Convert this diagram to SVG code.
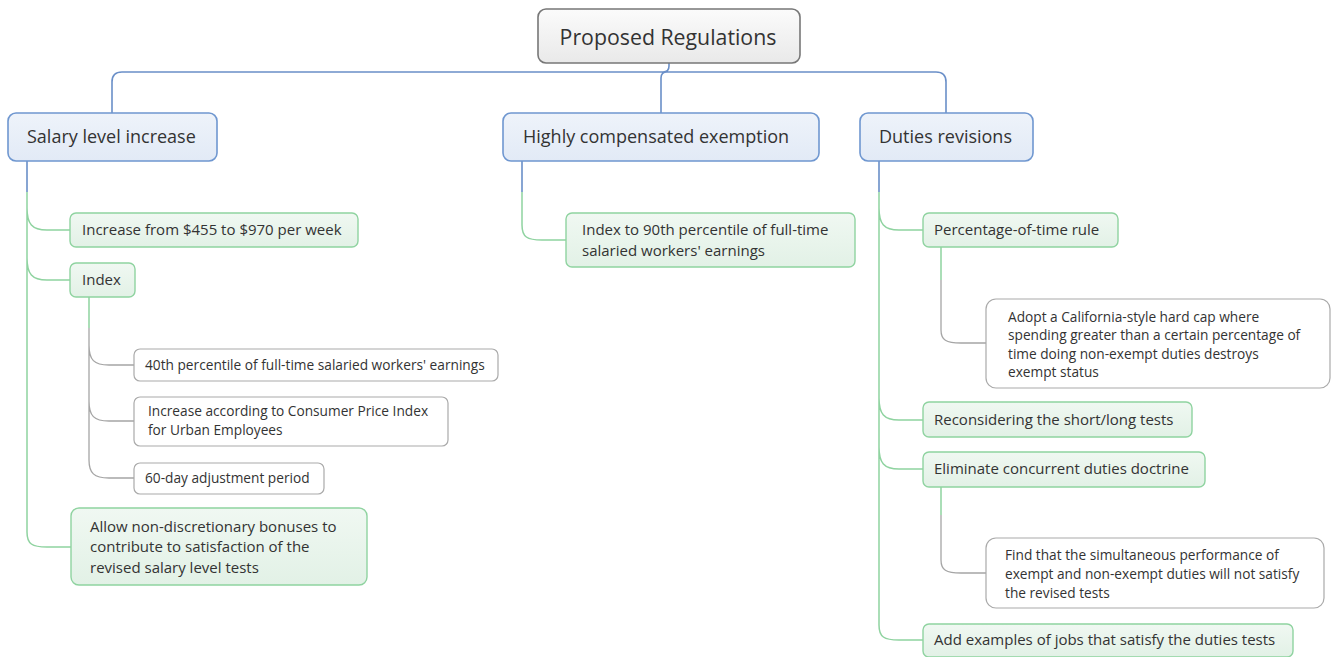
<svg xmlns="http://www.w3.org/2000/svg" width="1337" height="657" viewBox="0 0 1337 657">
<defs>
<linearGradient id="gRoot" x1="0" y1="0" x2="0" y2="1"><stop offset="0" stop-color="#fbfbfb"/><stop offset="1" stop-color="#e9e9e9"/></linearGradient>
<linearGradient id="gBlue" x1="0" y1="0" x2="0" y2="1"><stop offset="0" stop-color="#eef3fa"/><stop offset="1" stop-color="#e2eaf6"/></linearGradient>
<linearGradient id="gGreen" x1="0" y1="0" x2="0" y2="1"><stop offset="0" stop-color="#f0f8f2"/><stop offset="1" stop-color="#e2f1e6"/></linearGradient>
</defs>
<style>
text{font-family:"Open Sans","Noto Sans",sans-serif;fill:#333;}
.root{fill:url(#gRoot);stroke:#777;stroke-width:1.6;}
.blue{fill:url(#gBlue);stroke:#6f97d0;stroke-width:1.6;}
.green{fill:url(#gGreen);stroke:#8fd3a0;stroke-width:1.4;}
.gray{fill:#fff;stroke:#aaa;stroke-width:1.2;}
.t0{font-size:21.3px;}
.t1{font-size:18px;}
.t2{font-size:15px;}
.t3{font-size:13.7px;}
.cb{fill:none;stroke:#6a8fc8;stroke-width:1.6;}
.cg{fill:none;stroke:#8fd3a0;stroke-width:1.5;}
.cy{fill:none;stroke:#a5a5a5;stroke-width:1.3;}
</style>
<g id="connectors">
<path class="cb" d="M669,63 L669,66 Q669,72 663,72 M112,113 L112,82 Q112,72 122,72 L936,72 Q946,72 946,82 L946,113 M661,113 L661,78 Q661,72 667,72"/>
<path class="cb" d="M27,161 L27,192 M522,161 L522,192 M879,161 L879,192"/>
<path class="cg" d="M27,192 L27,532 C27,544 32,547 47,547 L71,547 M27,208 C27,224 32,230 47,230 L70,230 M27,258 C27,274 32,280 47,280 L70,280"/>
<path class="cg" d="M89,297 L89,328 M522,192 L522,225 C522,237 527,240 542,240 L566,240"/>
<path class="cy" d="M89,328 L89,460 C89,473 94,478 109,478 L134,478 M89,345 C89,360 94,365 109,365 L134,365 M89,401 C89,416 94,421 109,421 L134,421"/>
<path class="cg" d="M879,192 L879,625 C879,637 884,640 899,640 L923,640 M879,208 C879,224 884,230 899,230 L923,230 M879,398 C879,414 884,420 899,420 L923,420 M879,447 C879,463 884,469 899,469 L923,469"/>
<path class="cg" d="M941,247 L941,280 M941,487 L941,515"/>
<path class="cy" d="M941,280 L941,330 C941,340 946,343 961,343 L986,343 M941,515 L941,560 C941,570 946,573 961,573 L986,573"/>
</g>
<g id="root"><rect class="root" x="538" y="9" width="262" height="54" rx="8"/><text class="t0" x="668" y="44.5" text-anchor="middle">Proposed Regulations</text></g>
<g id="salary"><rect class="blue" x="8" y="113" width="209" height="48" rx="8"/><text class="t1" x="27" y="143">Salary level increase</text></g>
<g id="hce"><rect class="blue" x="503" y="113" width="316" height="48" rx="8"/><text class="t1" x="523" y="143">Highly compensated exemption</text></g>
<g id="duties"><rect class="blue" x="860" y="113" width="173" height="48" rx="8"/><text class="t1" x="879" y="143">Duties revisions</text></g>
<g id="increase"><rect class="green" x="70" y="213" width="288" height="34" rx="6"/><text class="t2" x="82" y="235">Increase from $455 to $970 per week</text></g>
<g id="index"><rect class="green" x="70" y="263" width="65" height="34" rx="6"/><text class="t2" x="82" y="285">Index</text></g>
<g id="p40"><rect class="gray" x="134" y="349" width="364" height="32" rx="6"/><text class="t3" x="145" y="370">40th percentile of full-time salaried workers' earnings</text></g>
<g id="cpi"><rect class="gray" x="134" y="397" width="314" height="49" rx="6"/><text class="t3" x="148" y="416">Increase according to Consumer Price Index</text><text class="t3" x="148" y="435">for Urban Employees</text></g>
<g id="adj"><rect class="gray" x="134" y="463" width="190" height="31" rx="6"/><text class="t3" x="145" y="483">60-day adjustment period</text></g>
<g id="bonus"><rect class="green" x="71" y="508" width="296" height="77" rx="8"/><text class="t2" x="90" y="532">Allow non-discretionary bonuses to</text><text class="t2" x="90" y="552">contribute to satisfaction of the</text><text class="t2" x="90" y="573">revised salary level tests</text></g>
<g id="p90"><rect class="green" x="566" y="213" width="289" height="54" rx="6"/><text class="t2" x="582" y="235">Index to 90th percentile of full-time</text><text class="t2" x="582" y="256">salaried workers' earnings</text></g>
<g id="pot"><rect class="green" x="923" y="213" width="195" height="34" rx="6"/><text class="t2" x="934" y="235">Percentage-of-time rule</text></g>
<g id="cal"><rect class="gray" x="986" y="299" width="344" height="89" rx="10"/><text class="t3" x="1008" y="322">Adopt a California-style hard cap where</text><text class="t3" x="1008" y="340">spending greater than a certain percentage of</text><text class="t3" x="1008" y="359">time doing non-exempt duties destroys</text><text class="t3" x="1008" y="377">exempt status</text></g>
<g id="short"><rect class="green" x="923" y="402" width="269" height="35" rx="6"/><text class="t2" x="934" y="425">Reconsidering the short/long tests</text></g>
<g id="concurrent"><rect class="green" x="923" y="452" width="282" height="35" rx="6"/><text class="t2" x="934" y="474">Eliminate concurrent duties doctrine</text></g>
<g id="sim"><rect class="gray" x="986" y="538" width="338" height="70" rx="10"/><text class="t3" x="1005" y="560">Find that the simultaneous performance of</text><text class="t3" x="1005" y="579">exempt and non-exempt duties will not satisfy</text><text class="t3" x="1005" y="598">the revised tests</text></g>
<g id="examples"><rect class="green" x="923" y="624" width="370" height="33" rx="6"/><text class="t2" x="934" y="645">Add examples of jobs that satisfy the duties tests</text></g>
</svg>
